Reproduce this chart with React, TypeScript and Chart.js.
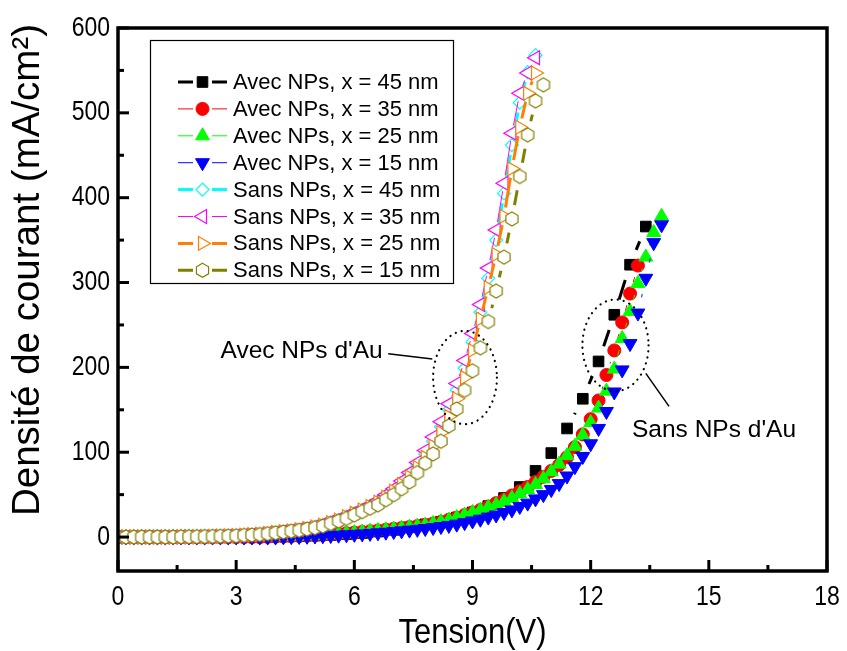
import React, { useEffect, useRef } from 'react';
import { Chart, registerables } from 'chart.js';

Chart.register(...registerables);

const FONT = "'Liberation Sans', Arial, Helvetica, sans-serif";

// Voltage grids (V)
const V_02 = [0, 0.2, 0.4, 0.6, 0.8, 1, 1.2, 1.4, 1.6, 1.8, 2, 2.2, 2.4, 2.6, 2.8, 3, 3.2, 3.4, 3.6, 3.8,
  4, 4.2, 4.4, 4.6, 4.8, 5, 5.2, 5.4, 5.6, 5.8, 6, 6.2, 6.4, 6.6, 6.8, 7, 7.2, 7.4, 7.6, 7.8,
  8, 8.2, 8.4, 8.6, 8.8, 9, 9.2, 9.4, 9.6, 9.8, 10, 10.2, 10.4, 10.6, 10.8, 11, 11.2, 11.4, 11.6, 11.8,
  12, 12.2, 12.4, 12.6, 12.8, 13, 13.2, 13.4, 13.6, 13.8];
const V_04 = [0.2, 0.6, 1, 1.4, 1.8, 2.2, 2.6, 3, 3.4, 3.8, 4.2, 4.6, 5, 5.4, 5.8, 6.2, 6.6, 7, 7.4, 7.8,
  8.2, 8.6, 9, 9.4, 9.8, 10.2, 10.6, 11, 11.4, 11.8, 12.2, 12.6, 13, 13.4];

// Current density (mA/cm²)
const J_AVEC_45 = [0, 0, 0, 0, 0, 0, 0, 0, 0.2, 0.4, 0.7, 1.1, 1.7, 2.5, 3.5, 4.8, 6.5, 8.5, 11.5, 15,
  18, 23, 29, 36.5, 46, 59, 78, 99, 128, 163, 207, 262, 321, 366];
const J_AVEC_35 = [0, 0, 0, 0, 0, 0, 0, 0, 0, 0, 0, 0, 0, 0, 0, 0, 0, 0, 0,
  0.3, 0.5, 0.7, 1.0, 1.3, 1.7, 2.1, 2.6, 3.2, 3.9, 4.6, 5.3, 6.1, 6.9, 7.8, 8.7, 9.7, 10.7, 11.8, 13, 14.3,
  16, 18, 20.5, 23, 26, 29, 32, 36, 40, 44, 49, 54, 59, 65, 71, 78, 85, 94, 106, 121,
  139, 161, 191, 220, 253, 287, 320];
const J_AVEC_25 = [0, 0, 0, 0, 0, 0, 0, 0, 0, 0, 0, 0, 0, 0, 0, 0, 0, 0, 0,
  0.3, 0.5, 0.7, 1.0, 1.3, 1.7, 2.1, 2.6, 3.2, 3.8, 4.5, 5.2, 6.0, 6.8, 7.6, 8.5, 9.5, 10.5, 11.6, 12.8, 14,
  16, 18, 20, 23, 26, 29, 32, 35, 38, 42, 46, 51, 56, 62, 69, 77, 86, 96, 107, 120,
  135, 152, 172, 198, 234, 266, 299, 330, 359, 378];
const J_AVEC_15 = [0, 0, 0, 0, 0, 0, 0, 0, 0, 0, 0, 0, 0, 0, 0, 0, 0, 0, 0, 0, 0,
  0.3, 0.5, 0.7, 0.9, 1.2, 1.5, 1.8, 2.2, 2.7, 3.2, 3.7, 4.3, 5.0, 5.7, 6.5, 7.3, 8.2, 9.1, 10.1,
  11.2, 12.4, 13.7, 15.2, 17, 19, 21, 23.5, 26, 29, 32, 36, 40, 45, 50, 56, 63, 72, 83, 95,
  110, 128, 148, 171, 197, 228, 264, 305, 347, 368];
const J_SANS_45 = [0, 0, 0, 0, 0, 0, 0, 0, 0.2, 0.3, 0.4, 0.6, 0.8, 1.0, 1.3,
  1.6, 2.0, 2.6, 3.3, 4.2, 5.0, 6.0, 7.0, 8.3, 9.8, 11.5, 14, 17, 20, 24, 28, 32, 37, 42, 48,
  55, 63, 73, 85, 98, 113, 130, 150, 173, 199, 230, 265, 305, 350, 405, 462, 512, 548, 568];
const J_SANS_35 = [0, 0, 0, 0, 0, 0, 0, 0, 0.3, 0.4, 0.5, 0.7, 0.9, 1.1, 1.4,
  1.7, 2.2, 2.8, 3.5, 4.5, 5.5, 6.5, 7.5, 9, 10.5, 12.5, 15, 18, 21, 25, 29, 33, 38, 43, 50,
  57, 66, 76, 88, 102, 118, 136, 157, 181, 208, 240, 274, 317, 362, 417, 476, 523, 547, 565];
const J_SANS_25 = [0, 0, 0, 0, 0, 0, 0, 0, 0.3, 0.4, 0.5, 0.6, 0.8, 1.0, 1.3,
  1.6, 2.1, 2.7, 3.3, 4.3, 5.3, 6.3, 7.3, 8.6, 10, 12, 14, 17, 20, 24, 28, 32, 36, 41, 47,
  54, 62, 71, 82, 94, 107, 123, 142, 163, 188, 220, 257, 294, 333, 378, 434, 483, 523, 547];
const J_SANS_15 = [0, 0, 0, 0, 0, 0, 0, 0, 0.3, 0.4, 0.5, 0.6, 0.8, 1.0, 1.2,
  1.5, 2, 2.5, 3, 4, 5, 6, 7, 8, 9.5, 11, 13, 16, 19, 22, 26, 30, 34, 38, 44,
  50, 57, 65, 76, 87, 98, 113, 131, 151, 173, 196, 223, 254, 290, 330, 375, 425, 474, 514, 533];

const LABELS = [
  'Avec NPs, x = 45 nm', 'Avec NPs, x = 35 nm', 'Avec NPs, x = 25 nm', 'Avec NPs, x = 15 nm',
  'Sans NPs, x = 45 nm', 'Sans NPs, x = 35 nm', 'Sans NPs, x = 25 nm', 'Sans NPs, x = 15 nm',
];
const VALUES = [J_AVEC_45, J_AVEC_35, J_AVEC_25, J_AVEC_15, J_SANS_45, J_SANS_35, J_SANS_25, J_SANS_15];
const XS = [V_04, V_02, V_02, V_02, V_02, V_02, V_02, V_02];

const X_TICKS = [0, 3, 6, 9, 12, 15, 18];
const X_MINOR = [1.5, 4.5, 7.5, 10.5, 13.5, 16.5];
const Y_TICKS = [0, 100, 200, 300, 400, 500, 600];
const Y_MINOR = [50, 150, 250, 350, 450, 550];

const X_TITLE = 'Tension(V)';
const Y_TITLE = 'Densité de courant (mA/cm²)';
const NOTE_LEFT = "Avec NPs d'Au";
const NOTE_RIGHT = "Sans NPs d'Au";

const STYLES = [
  { color: '#000000', line: '#000000', lw: 3, shape: 'rect', r: 7.5, rot: 0, fill: '#000000', pbw: 1, gap: 16 },
  { color: '#ff0000', line: '#ff0000', lw: 1, shape: 'circle', r: 6.5, rot: 0, fill: '#ff0000', pbw: 1, gap: 12 },
  { color: '#00ff00', line: '#00ff00', lw: 1, shape: 'triangle', r: 8, rot: 0, fill: '#00ff00', pbw: 1, gap: 12 },
  { color: '#0000ff', line: '#3a3aff', lw: 1.2, shape: 'triangle', r: 8, rot: 180, fill: '#0000ff', pbw: 1, gap: 16 },
  { color: '#00ffff', line: '#00ffff', lw: 3, shape: 'rectRot', r: 6.5, rot: 0, fill: '#ffffff', pbw: 1.2, gap: 10 },
  { color: '#ff00ff', line: '#ff00ff', lw: 1, shape: 'triangle', r: 8, rot: -90, fill: '#ffffff', pbw: 1.2, gap: 8 },
  { color: '#ff8000', line: '#ff8000', lw: 3, shape: 'triangle', r: 8, rot: 90, fill: '#ffffff', pbw: 1.2, gap: 9 },
  { color: '#808000', line: '#808000', lw: 3, shape: 'hexagon', r: 7, rot: 0, fill: '#ffffff', pbw: 1.2, gap: 14 },
];

function hexPath(ctx: CanvasRenderingContext2D, cx: number, cy: number, r: number) {
  ctx.beginPath();
  for (let k = 0; k < 6; k++) {
    const a = -Math.PI / 2 + (k * Math.PI) / 3;
    const px = cx + r * Math.cos(a);
    const py = cy + r * Math.sin(a);
    if (k === 0) ctx.moveTo(px, py); else ctx.lineTo(px, py);
  }
  ctx.closePath();
}

function makeHexImage(r: number, stroke: string, fill: string, lw: number) {
  const c = document.createElement('canvas');
  const s = Math.ceil(2 * r + 4);
  c.width = s; c.height = s;
  const g = c.getContext('2d')!;
  hexPath(g, s / 2, s / 2, r);
  g.fillStyle = fill; g.fill();
  g.strokeStyle = stroke; g.lineWidth = lw; g.stroke();
  return c;
}

function drawMarker(ctx: CanvasRenderingContext2D, st: any, x: number, y: number) {
  ctx.save();
  ctx.fillStyle = st.fill;
  ctx.strokeStyle = st.color;
  ctx.lineWidth = st.pbw;
  const r = st.r;
  ctx.beginPath();
  if (st.shape === 'rect') {
    const h = r * Math.SQRT1_2;
    ctx.rect(x - h, y - h, 2 * h, 2 * h);
  } else if (st.shape === 'circle') {
    ctx.arc(x, y, r, 0, Math.PI * 2);
  } else if (st.shape === 'rectRot') {
    ctx.moveTo(x - r, y); ctx.lineTo(x, y - r); ctx.lineTo(x + r, y); ctx.lineTo(x, y + r); ctx.closePath();
  } else if (st.shape === 'triangle') {
    let a = (st.rot * Math.PI) / 180;
    for (let k = 0; k < 3; k++) {
      const px = x + Math.sin(a) * r;
      const py = y - Math.cos(a) * r;
      if (k === 0) ctx.moveTo(px, py); else ctx.lineTo(px, py);
      a += (2 * Math.PI) / 3;
    }
    ctx.closePath();
  } else if (st.shape === 'hexagon') {
    hexPath(ctx, x, y, r);
  }
  ctx.fill();
  ctx.stroke();
  ctx.restore();
}

function stretchedText(ctx: CanvasRenderingContext2D, text: string, x: number, y: number, sy: number) {
  ctx.save();
  ctx.translate(x, y);
  ctx.scale(1, sy);
  ctx.fillText(text, 0, 0);
  ctx.restore();
}

const decorPlugin = {
  id: 'decor',
  afterDatasetsDraw(chart: any) {
    const { ctx, chartArea: a, scales } = chart;
    const xs = scales.x; const ys = scales.y;
    const px = (v: number) => xs.getPixelForValue(v);
    const py = (v: number) => ys.getPixelForValue(v);
    ctx.save();

    // annotations: dotted ellipses, leader lines and texts
    const ell = (cx: number, cy: number, rx: number, ry: number) => {
      ctx.save();
      ctx.beginPath();
      ctx.setLineDash([0.1, 6]);
      ctx.lineCap = 'round';
      ctx.lineWidth = 2.2;
      ctx.strokeStyle = '#000';
      ctx.ellipse(px(cx), py(cy), Math.abs(px(cx + rx) - px(cx)), Math.abs(py(cy + ry) - py(cy)), 0, 0, Math.PI * 2);
      ctx.stroke();
      ctx.restore();
    };
    ell(8.81, 188, 0.81, 55);
    ell(12.63, 226, 0.84, 54);
    ctx.strokeStyle = '#000';
    ctx.lineWidth = 1.5;
    ctx.beginPath();
    ctx.moveTo(px(6.86), py(216)); ctx.lineTo(px(7.98), py(210));
    ctx.moveTo(px(13.4), py(193)); ctx.lineTo(px(13.99), py(154));
    ctx.stroke();
    ctx.fillStyle = '#000';
    ctx.font = `24.5px ${FONT}`;
    ctx.textBaseline = 'middle';
    ctx.textAlign = 'right';
    ctx.fillText(NOTE_LEFT, px(6.72), py(219));
    ctx.textAlign = 'left';
    ctx.fillText(NOTE_RIGHT, px(13.05), py(126));

    // frame
    ctx.strokeStyle = '#000';
    ctx.lineWidth = 3.5;
    ctx.strokeRect(a.left, a.top, a.right - a.left, a.bottom - a.top);

    // inward ticks
    ctx.lineCap = 'butt';
    const tick = (x1: number, y1: number, x2: number, y2: number, w: number) => {
      ctx.lineWidth = w; ctx.beginPath(); ctx.moveTo(x1, y1); ctx.lineTo(x2, y2); ctx.stroke();
    };
    X_TICKS.forEach(v => tick(px(v), a.bottom, px(v), a.bottom - 11, 3));
    X_MINOR.forEach(v => tick(px(v), a.bottom, px(v), a.bottom - 6, 3));
    Y_TICKS.forEach(v => tick(a.left, py(v), a.left + 11, py(v), 3));
    Y_MINOR.forEach(v => tick(a.left, py(v), a.left + 6, py(v), 3));

    // tick labels
    ctx.fillStyle = '#000';
    ctx.font = `23px ${FONT}`;
    ctx.textBaseline = 'middle';
    ctx.textAlign = 'center';
    X_TICKS.forEach(v => stretchedText(ctx, String(v), px(v), a.bottom + 26, 1.2));
    ctx.textAlign = 'right';
    Y_TICKS.forEach(v => stretchedText(ctx, String(v), a.left - 8, py(v), 1.2));

    // legend box
    const lx = 150, ly = 40, lw = 303, lh = 243;
    ctx.fillStyle = '#fff';
    ctx.fillRect(lx, ly, lw, lh);
    ctx.lineWidth = 1.2;
    ctx.strokeStyle = '#000';
    ctx.strokeRect(lx + 0.5, ly + 0.5, lw, lh);
    ctx.font = `22px ${FONT}`;
    ctx.textAlign = 'left';
    ctx.textBaseline = 'middle';
    LABELS.forEach((lab, i) => {
      const st = STYLES[i];
      const yy = 82 + i * 26.9;
      ctx.strokeStyle = st.line;
      ctx.lineWidth = st.lw;
      ctx.beginPath();
      ctx.moveTo(178, yy); ctx.lineTo(193, yy);
      ctx.moveTo(212, yy); ctx.lineTo(227, yy);
      ctx.stroke();
      drawMarker(ctx, st, 202.5, yy);
      ctx.fillStyle = '#000';
      ctx.fillText(lab, 233, yy + 1);
    });

    ctx.restore();
  },
  afterDraw(chart: any) {
    const { ctx, chartArea: a } = chart;
    ctx.save();
    ctx.fillStyle = '#000';
    ctx.textAlign = 'center';
    ctx.textBaseline = 'middle';
    ctx.font = `31px ${FONT}`;
    stretchedText(ctx, X_TITLE, (a.left + a.right) / 2, 633, 1.15);
    ctx.translate(28, 270);
    ctx.rotate(-Math.PI / 2);
    ctx.font = `38.5px ${FONT}`;
    ctx.fillText(Y_TITLE, 0, 0);
    ctx.restore();
  },
};

export default function App() {
  const ref = useRef<HTMLCanvasElement>(null);
  useEffect(() => {
    document.body.style.margin = '0';
    const canvas = ref.current!;
    const datasets = LABELS.map((label, i) => {
      const st = STYLES[i];
      const ys = VALUES[i];
      const xs = XS[i];
      const pointStyle: any = st.shape === 'hexagon' ? makeHexImage(st.r, st.color, st.fill, st.pbw) : st.shape;
      return {
        label,
        data: ys.map((y, j) => ({ x: xs[j], y })),
        borderColor: st.line,
        borderWidth: st.lw,
        backgroundColor: st.fill,
        pointStyle,
        pointRotation: st.rot,
        pointRadius: st.r,
        pointBackgroundColor: st.fill,
        pointBorderColor: st.color,
        pointBorderWidth: st.pbw,
        showLine: true,
        fill: false,
        tension: 0,
        order: 7 - i,
        segment: {
          // leave a gap around each symbol, as in the original plot
          borderDash: (c: any) => {
            const L = Math.hypot(c.p1.x - c.p0.x, c.p1.y - c.p0.y);
            const g = st.gap;
            const tag = c.p0DataIndex * 1e-6;
            if (L <= 2 * g) return [0, L + 1000 + tag];
            return [0, g, L - 2 * g, g + 1000 + tag];
          },
        },
      };
    });
    const chart = new Chart(canvas, {
      type: 'line',
      data: { datasets },
      options: {
        animation: false,
        responsive: false,
        devicePixelRatio: 1,
        layout: { padding: { left: 0, right: 20, top: 28, bottom: 0 } },
        plugins: { legend: { display: false }, tooltip: { enabled: false } },
        scales: {
          x: {
            type: 'linear', min: 0, max: 18,
            grid: { display: false, drawTicks: false },
            border: { display: false },
            ticks: { display: false },
            afterBuildTicks: (s: any) => { s.ticks = X_TICKS.map(v => ({ value: v })); },
            afterFit: (s: any) => { s.height = 80; },
          },
          y: {
            type: 'linear', min: -40, max: 600,
            grid: { display: false, drawTicks: false },
            border: { display: false },
            ticks: { display: false },
            afterBuildTicks: (s: any) => { s.ticks = Y_TICKS.map(v => ({ value: v })); },
            afterFit: (s: any) => { s.width = 118; },
          },
        },
      } as any,
      plugins: [decorPlugin],
    });
    return () => chart.destroy();
  }, []);
  return <canvas ref={ref} width={847} height={651} style={{ display: 'block' }} />;
}
